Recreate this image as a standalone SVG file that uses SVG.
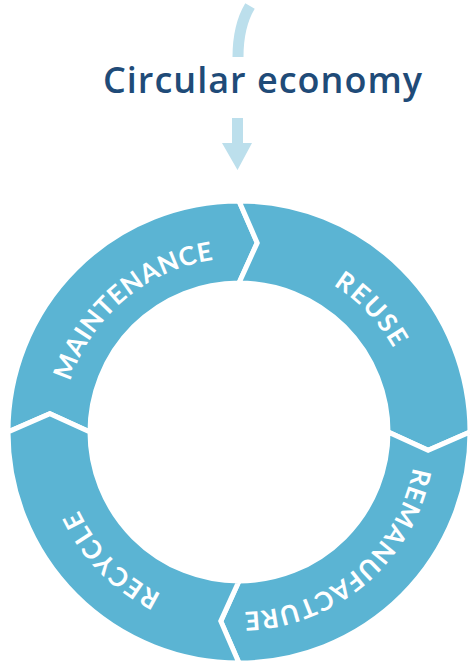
<svg xmlns="http://www.w3.org/2000/svg" width="470" height="661" viewBox="0 0 470 661">
  <style>
    .seg { fill: #5bb4d3; stroke: #ffffff; stroke-width: 5; stroke-linejoin: miter; }
    .lbl { fill: #ffffff; font-family: Lato, "Open Sans", "Liberation Sans", sans-serif; font-weight: 700; font-size: 26px; }
    .title { fill: #1f4b78; font-family: "Open Sans", "Liberation Sans", sans-serif; font-weight: 600; font-size: 36px; }
    .deco { fill: #bcdfec; }
  </style>
  <defs>
    <path id="pMaint" d="M 73.10,496.70 A 177 177 0 0 1 326.43,281.10"/>
    <path id="pReuse" d="M 168.14,272.80 A 177 177 0 0 1 397.54,513.70"/>
    <path id="pReman" d="M 404.68,372.72 A 177 177 0 0 1 152.10,589.20"/>
    <path id="pRecyc" d="M 312.40,596.06 A 177 177 0 0 1 79.24,358.80"/>
  </defs>
  <rect width="470" height="661" fill="#ffffff"/>

  <g id="title">
    <path d="M 250,6 Q 238,26 238,57" fill="none" stroke="#bcdfec" stroke-width="11"/>
    <text class="title" x="262.5" y="93" text-anchor="middle" textLength="319" lengthAdjust="spacing">Circular economy</text>
    <path class="deco" d="M 232,118 L 243,118 L 243,143 L 252,143 L 237.5,170 L 222,143 L 232,143 Z"/>
  </g>

  <g id="maintenance">
    <path class="seg" d="M 8,432 A 231 231 0 0 1 239,201 L 257.21,242.87 L 239,283 A 149 149 0 0 0 90,432 L 49.87,413.79 Z"/>
    <text class="lbl"><textPath href="#pMaint" startOffset="50%" text-anchor="middle" textLength="198" lengthAdjust="spacing">MAINTENANCE</textPath></text>
  </g>
  <g id="reuse">
    <path class="seg" d="M 239,201 A 231 231 0 0 1 470,432 L 428.13,450.21 L 388,432 A 149 149 0 0 0 239,283 L 257.21,242.87 Z"/>
    <text class="lbl"><textPath href="#pReuse" startOffset="50%" text-anchor="middle" textLength="88" lengthAdjust="spacing">REUSE</textPath></text>
  </g>
  <g id="remanufacture">
    <path class="seg" d="M 470,432 A 231 231 0 0 1 239,663 L 220.79,621.13 L 239,581 A 149 149 0 0 0 388,432 L 428.13,450.21 Z"/>
    <text class="lbl"><textPath href="#pReman" startOffset="50%" text-anchor="middle" textLength="240" lengthAdjust="spacing">REMANUFACTURE</textPath></text>
  </g>
  <g id="recycle">
    <path class="seg" d="M 239,663 A 231 231 0 0 1 8,432 L 49.87,413.79 L 90,432 A 149 149 0 0 0 239,581 L 220.79,621.13 Z"/>
    <text class="lbl"><textPath href="#pRecyc" startOffset="50%" text-anchor="middle" textLength="120" lengthAdjust="spacing">RECYCLE</textPath></text>
  </g>
  <g id="connectors"/>
</svg>
